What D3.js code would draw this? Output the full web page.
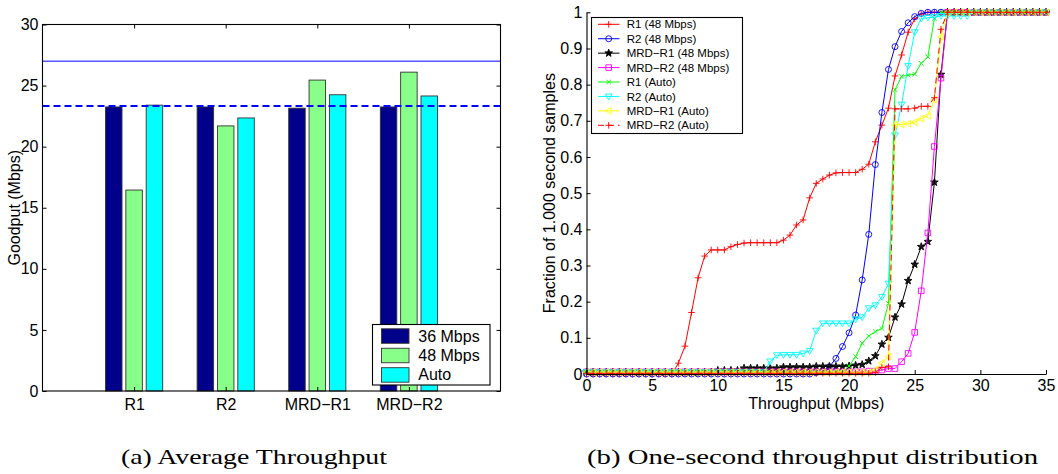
<!DOCTYPE html>
<html>
<head>
<meta charset="utf-8">
<script src="https://cdn.jsdelivr.net/npm/d3@7"></script>
<style>
  body { margin: 0; background: #fff; }
  svg text { font-family: "Liberation Sans", Arial, Helvetica, sans-serif; fill: #000; }
  .caption { font-family: "Liberation Serif", "Times New Roman", serif; }
</style>
</head>
<body>
<svg id="fig" width="1058" height="474"></svg>
<script>
// ---------- (a) average goodput per router ----------
const routers = ["R1", "R2", "MRD\u2212R1", "MRD\u2212R2"];
const rateLabels = ["36 Mbps", "48 Mbps", "Auto"];
const goodput36 = [23.25, 23.25, 23.15, 23.25];
const goodput48 = [16.45, 21.7, 25.45, 26.1];
const goodputAuto = [23.4, 22.35, 24.25, 24.15];
const capacityLine = 27;
const referenceLine = 23.33;
const goodputTicks = [0, 5, 10, 15, 20, 25, 30];

// ---------- (b) CDF of one-second throughput samples ----------
const throughputBins = [
  0, 0.5, 1, 1.5, 2, 2.5, 3, 3.5, 4, 4.5,
  5, 5.5, 6, 6.5, 7, 7.5, 8, 8.5, 9, 9.5,
  10, 10.5, 11, 11.5, 12, 12.5, 13, 13.5, 14, 14.5,
  15, 15.5, 16, 16.5, 17, 17.5, 18, 18.5, 19, 19.5,
  20, 20.5, 21, 21.5, 22, 22.5, 23, 23.5, 24, 24.5,
  25, 25.5, 26, 26.5, 27, 27.5, 28, 28.5, 29, 29.5,
  30, 30.5, 31, 31.5, 32, 32.5, 33, 33.5, 34, 34.5,
  35
];
const cdfR1_48 = [
  0, 0, 0, 0, 0, 0, 0, 0, 0, 0,
  0, 0, 0, 0, 0.03, 0.077, 0.17, 0.266, 0.326, 0.343,
  0.343, 0.343, 0.352, 0.358, 0.362, 0.363, 0.363, 0.363, 0.363, 0.363,
  0.37, 0.384, 0.412, 0.426, 0.487, 0.527, 0.539, 0.55, 0.556, 0.557,
  0.557, 0.557, 0.566, 0.58, 0.642, 0.688, 0.735, 0.824, 0.882, 0.945,
  0.982, 0.995, 1, 1, 1, 1, 1, 1, 1, 1,
  1, 1, 1, 1, 1, 1, 1, 1, 1, 1,
  1
];
const cdfR2_48 = [
  0, 0, 0, 0, 0, 0, 0, 0, 0, 0,
  0, 0, 0, 0, 0, 0, 0, 0, 0, 0,
  0, 0, 0, 0, 0, 0, 0, 0, 0, 0,
  0, 0, 0, 0, 0, 0.003, 0.008, 0.02, 0.043, 0.076,
  0.114, 0.163, 0.26, 0.386, 0.579, 0.723, 0.842, 0.905, 0.947, 0.971,
  0.988, 0.997, 1, 1, 1, 1, 1, 1, 1, 1,
  1, 1, 1, 1, 1, 1, 1, 1, 1, 1,
  1
];
const cdfMRDR1_48 = [
  0.005, 0.005, 0.005, 0.005, 0.005, 0.005, 0.005, 0.005, 0.005, 0.005,
  0.005, 0.005, 0.005, 0.005, 0.005, 0.005, 0.005, 0.005, 0.005, 0.005,
  0.01, 0.01, 0.01, 0.01, 0.016, 0.016, 0.016, 0.016, 0.016, 0.016,
  0.019, 0.019, 0.019, 0.019, 0.019, 0.021, 0.021, 0.021, 0.021, 0.021,
  0.022, 0.024, 0.026, 0.036, 0.05, 0.082, 0.101, 0.157, 0.193, 0.258,
  0.303, 0.352, 0.366, 0.53, 0.828, 1, 1, 1, 1, 1,
  1, 1, 1, 1, 1, 1, 1, 1, 1, 1,
  1
];
const cdfMRDR2_48 = [
  0.006, 0.006, 0.006, 0.006, 0.006, 0.006, 0.006, 0.006, 0.006, 0.006,
  0.006, 0.006, 0.006, 0.006, 0.006, 0.006, 0.006, 0.006, 0.006, 0.006,
  0.006, 0.006, 0.006, 0.006, 0.006, 0.006, 0.006, 0.006, 0.006, 0.006,
  0.006, 0.006, 0.006, 0.006, 0.006, 0.006, 0.006, 0.006, 0.006, 0.006,
  0.006, 0.006, 0.006, 0.008, 0.008, 0.011, 0.015, 0.015, 0.034, 0.057,
  0.115, 0.23, 0.39, 0.629, 0.818, 1, 1, 1, 1, 1,
  1, 1, 1, 1, 1, 1, 1, 1, 1, 1,
  1
];
const cdfR1_auto = [
  0.005, 0.005, 0.005, 0.005, 0.005, 0.005, 0.005, 0.005, 0.005, 0.005,
  0.005, 0.005, 0.005, 0.005, 0.005, 0.005, 0.005, 0.005, 0.005, 0.005,
  0.005, 0.005, 0.005, 0.005, 0.005, 0.005, 0.005, 0.005, 0.005, 0.005,
  0.005, 0.005, 0.005, 0.005, 0.005, 0.005, 0.005, 0.005, 0.005, 0.005,
  0.022, 0.048, 0.085, 0.105, 0.117, 0.126, 0.195, 0.786, 0.823, 0.826,
  0.829, 0.859, 0.877, 0.983, 1, 1, 1, 1, 1, 1,
  1, 1, 1, 1, 1, 1, 1, 1, 1, 1,
  1
];
const cdfR2_auto = [
  0.005, 0.005, 0.005, 0.005, 0.005, 0.005, 0.005, 0.005, 0.005, 0.005,
  0.005, 0.005, 0.005, 0.005, 0.005, 0.005, 0.005, 0.005, 0.005, 0.005,
  0.005, 0.005, 0.005, 0.005, 0.005, 0.005, 0.005, 0.005, 0.035, 0.052,
  0.053, 0.053, 0.053, 0.057, 0.064, 0.12, 0.14, 0.14, 0.14, 0.14,
  0.14, 0.151, 0.157, 0.182, 0.19, 0.213, 0.25, 0.66, 0.745, 0.852,
  0.945, 0.983, 0.985, 0.987, 0.99, 0.99, 0.99, 0.99, 0.99, 1,
  1, 1, 1, 1, 1, 1, 1, 1, 1, 1,
  1
];
const cdfMRDR1_auto = [
  0.005, 0.005, 0.005, 0.005, 0.005, 0.005, 0.005, 0.005, 0.005, 0.005,
  0.005, 0.005, 0.005, 0.005, 0.005, 0.005, 0.005, 0.005, 0.005, 0.005,
  0.005, 0.005, 0.005, 0.005, 0.005, 0.005, 0.005, 0.005, 0.005, 0.005,
  0.005, 0.005, 0.005, 0.005, 0.005, 0.005, 0.005, 0.005, 0.005, 0.005,
  0.005, 0.005, 0.005, 0.005, 0.012, 0.03, 0.048, 0.689, 0.69, 0.692,
  0.696, 0.706, 0.714, 0.758, 0.932, 1, 1, 1, 1, 1,
  1, 1, 1, 1, 1, 1, 1, 1, 1, 1,
  1
];
const cdfMRDR2_auto = [
  0.002, 0.002, 0.002, 0.002, 0.002, 0.002, 0.002, 0.002, 0.002, 0.002,
  0.002, 0.002, 0.002, 0.002, 0.002, 0.002, 0.002, 0.002, 0.002, 0.002,
  0.002, 0.002, 0.002, 0.002, 0.002, 0.002, 0.002, 0.002, 0.002, 0.002,
  0.002, 0.002, 0.002, 0.002, 0.002, 0.002, 0.002, 0.002, 0.002, 0.002,
  0.002, 0.002, 0.002, 0.002, 0.004, 0.018, 0.02, 0.733, 0.733, 0.733,
  0.735, 0.74, 0.74, 0.764, 0.953, 1, 1, 1, 1, 1,
  1, 1, 1, 1, 1, 1, 1, 1, 1, 1,
  1
];
const cdfNames = [
  "R1 (48 Mbps)", "R2 (48 Mbps)", "MRD\u2212R1 (48 Mbps)", "MRD\u2212R2 (48 Mbps)",
  "R1 (Auto)", "R2 (Auto)", "MRD\u2212R1 (Auto)", "MRD\u2212R2 (Auto)"
];
const throughputTicks = [0, 5, 10, 15, 20, 25, 30, 35];
const fractionTicks = [0, 0.1, 0.2, 0.3, 0.4, 0.5, 0.6, 0.7, 0.8, 0.9, 1];
const fractionTickLabels = ["0", "0.1", "0.2", "0.3", "0.4", "0.5", "0.6", "0.7", "0.8", "0.9", "1"];

const svg = d3.select("#fig");

// ================= panel (a) =================
const ga = svg.append("g");
const xA = d3.scaleLinear().domain([0, 5]).range([42.5, 500.5]);
const yA = d3.scaleLinear().domain([0, 30]).range([391, 24.5]);

const barSeries = [goodput36, goodput48, goodputAuto];
const barColors = ["#00008a", "#88ff88", "#00ffff"];
const barOffsets = [-0.222, 0, 0.222];
const barWidth = 0.18;

barSeries.forEach((vals, s) => {
  ga.append("g").selectAll("rect")
    .data(vals)
    .join("rect")
    .attr("x", (d, i) => xA(i + 1 + barOffsets[s] - barWidth / 2))
    .attr("width", xA(barWidth) - xA(0))
    .attr("y", d => yA(d))
    .attr("height", d => yA(0) - yA(d))
    .attr("fill", barColors[s])
    .attr("stroke", "#333")
    .attr("stroke-width", 0.9);
});

// horizontal reference lines
ga.append("line")
  .attr("x1", xA(0)).attr("x2", xA(5))
  .attr("y1", yA(capacityLine)).attr("y2", yA(capacityLine))
  .attr("stroke", "#0000ff").attr("stroke-width", 1);
ga.append("line")
  .attr("x1", xA(0)).attr("x2", xA(5))
  .attr("y1", yA(referenceLine)).attr("y2", yA(referenceLine))
  .attr("stroke", "#0000ff").attr("stroke-width", 2)
  .attr("stroke-dasharray", "7,4");

// axes (ticks point inwards on all four sides)
const axLeftA = ga.append("g").attr("transform", `translate(${xA(0)},0)`)
  .call(d3.axisLeft(yA).tickValues(goodputTicks).tickSizeInner(-4).tickSizeOuter(0).tickPadding(4));
const axRightA = ga.append("g").attr("transform", `translate(${xA(5)},0)`)
  .call(d3.axisRight(yA).tickValues(goodputTicks).tickSizeInner(-4).tickSizeOuter(0).tickFormat(""));
const axBottomA = ga.append("g").attr("transform", `translate(0,${yA(0)})`)
  .call(d3.axisBottom(xA).tickValues([1, 2, 3, 4]).tickFormat(d => routers[d - 1])
    .tickSizeInner(-4).tickSizeOuter(0).tickPadding(7.6));
const axTopA = ga.append("g").attr("transform", `translate(0,${yA(30)})`)
  .call(d3.axisTop(xA).tickValues([1, 2, 3, 4]).tickSizeInner(-4).tickSizeOuter(0).tickFormat(""));
[axLeftA, axRightA, axBottomA, axTopA].forEach(a => {
  a.select(".domain").remove();
  a.selectAll("line").attr("stroke", "#000");
  a.selectAll("text").style("font-size", "16px").attr("fill", "#000");
});
ga.append("rect")
  .attr("x", xA(0)).attr("y", yA(30))
  .attr("width", xA(5) - xA(0)).attr("height", yA(0) - yA(30))
  .attr("fill", "none").attr("stroke", "#000").attr("stroke-width", 1.1);

ga.append("text")
  .attr("transform", `translate(20,${(yA(0) + yA(30)) / 2}) rotate(-90)`)
  .attr("text-anchor", "middle")
  .style("font-size", "16px")
  .text("Goodput (Mbps)");

// legend (a)
const legA = ga.append("g");
legA.append("rect")
  .attr("x", 372.5).attr("y", 324.5).attr("width", 117.5).attr("height", 60.5)
  .attr("fill", "#fff").attr("stroke", "#000").attr("stroke-width", 1.1);
rateLabels.forEach((lbl, i) => {
  const cy = 335.8 + i * 19.45;
  legA.append("rect")
    .attr("x", 381.5).attr("y", cy - 7).attr("width", 27.5).attr("height", 14.5)
    .attr("fill", barColors[i]).attr("stroke", "#333").attr("stroke-width", 0.9);
  legA.append("text")
    .attr("x", 418.3).attr("y", cy).attr("dy", "0.36em")
    .style("font-size", "16px")
    .text(lbl);
});

// ================= panel (b) =================
const gb = svg.append("g");
const xB = d3.scaleLinear().domain([0, 35]).range([586.5, 1046]);
const yB = d3.scaleLinear().domain([0, 1]).range([374, 12.3]);

// marker glyphs
function starPath(R, r) {
  let p = "";
  for (let k = 0; k < 10; k++) {
    const a = -Math.PI / 2 + k * Math.PI / 5;
    const rad = k % 2 === 0 ? R : r;
    p += (k === 0 ? "M" : "L") + (rad * Math.cos(a)).toFixed(2) + "," + (rad * Math.sin(a)).toFixed(2);
  }
  return p + "Z";
}
const markers = {
  plus: "M-3.3,0H3.3M0,-3.3V3.3",
  circle: "M3,0A3,3 0 1,1 -3,0A3,3 0 1,1 3,0Z",
  star: starPath(4, 1.6),
  square: "M-2.8,-2.8H2.8V2.8H-2.8Z",
  cross: "M-2.3,-2.3L2.3,2.3M-2.3,2.3L2.3,-2.3",
  triDown: "M-3.4,-2.4H3.4L0,3.4Z",
  triLeft: "M-3.4,0L2.4,-3.4V3.4Z"
};

const cdfSeries = [cdfR1_48, cdfR2_48, cdfMRDR1_48, cdfMRDR2_48, cdfR1_auto, cdfR2_auto, cdfMRDR1_auto, cdfMRDR2_auto];
const cdfStyles = [
  { color: "#ff0000", marker: "plus", dash: null, fill: "none" },
  { color: "#0000ff", marker: "circle", dash: null, fill: "none" },
  { color: "#000000", marker: "star", dash: null, fill: "#000" },
  { color: "#ff00ff", marker: "square", dash: null, fill: "none" },
  { color: "#00ff00", marker: "cross", dash: null, fill: "none" },
  { color: "#00ffff", marker: "triDown", dash: null, fill: "none" },
  { color: "#ffff00", marker: "triLeft", dash: null, fill: "none" },
  { color: "#ff0000", marker: "plus", dash: "6,4", fill: "none" }
];

const line = d3.line().x(d => xB(d[0])).y(d => yB(d[1]));

cdfSeries.forEach((vals, s) => {
  const st = cdfStyles[s];
  const pts = throughputBins.map((x, i) => [x, vals[i]]);
  const g = gb.append("g");
  g.append("path")
    .attr("d", line(pts))
    .attr("fill", "none")
    .attr("stroke", st.color)
    .attr("stroke-width", 1)
    .attr("stroke-dasharray", st.dash);
  g.selectAll("path.mk")
    .data(pts)
    .join("path")
    .attr("class", "mk")
    .attr("transform", d => `translate(${xB(d[0])},${yB(d[1])})`)
    .attr("d", markers[st.marker])
    .attr("fill", st.fill === "none" ? "none" : st.color)
    .attr("fill-opacity", st.fill === "none" ? 0 : 0.85)
    .attr("stroke", st.color)
    .attr("stroke-width", 0.9);
});

// axes (b): left and bottom only, ticks inward
const axLeftB = gb.append("g").attr("transform", `translate(${xB(0)},0)`)
  .call(d3.axisLeft(yB).tickValues(fractionTicks).tickFormat((d, i) => fractionTickLabels[i])
    .tickSizeInner(-4).tickSizeOuter(0).tickPadding(4));
const axBottomB = gb.append("g").attr("transform", `translate(0,${yB(0)})`)
  .call(d3.axisBottom(xB).tickValues(throughputTicks).tickFormat(d => String(d))
    .tickSizeInner(-4).tickSizeOuter(0).tickPadding(6));
[axLeftB, axBottomB].forEach(a => {
  a.select(".domain").attr("stroke", "#000").attr("stroke-width", 1.1);
  a.selectAll("line").attr("stroke", "#000");
  a.selectAll("text").style("font-size", "16px").attr("fill", "#000");
});

gb.append("text")
  .attr("x", (xB(0) + xB(35)) / 2).attr("y", 409)
  .attr("text-anchor", "middle")
  .style("font-size", "16px")
  .text("Throughput (Mbps)");
gb.append("text")
  .attr("transform", `translate(554.5,${(yB(0) + yB(1)) / 2}) rotate(-90)`)
  .attr("text-anchor", "middle")
  .style("font-size", "16px")
  .text("Fraction of 1.000 second samples");

// legend (b)
const legB = gb.append("g");
legB.append("rect")
  .attr("x", 591.5).attr("y", 17.5).attr("width", 151).attr("height", 116)
  .attr("fill", "#fff").attr("stroke", "#000").attr("stroke-width", 1.1);
cdfNames.forEach((name, i) => {
  const st = cdfStyles[i];
  const cy = 24.3 + i * 14.43;
  legB.append("line")
    .attr("x1", 598).attr("x2", 619.5).attr("y1", cy).attr("y2", cy)
    .attr("stroke", st.color).attr("stroke-width", 1)
    .attr("stroke-dasharray", st.dash);
  legB.append("path")
    .attr("transform", `translate(608.7,${cy})`)
    .attr("d", markers[st.marker])
    .attr("fill", st.fill === "none" ? "none" : st.color)
    .attr("stroke", st.color).attr("stroke-width", 0.9);
  legB.append("text")
    .attr("x", 626.7).attr("y", cy).attr("dy", "0.36em")
    .style("font-size", "11.5px")
    .text(name);
});

// ================= captions =================
svg.append("text").attr("class", "caption")
  .attr("x", 121).attr("y", 464)
  .attr("textLength", 266).attr("lengthAdjust", "spacingAndGlyphs")
  .style("font-size", "21px")
  .text("(a) Average Throughput");
svg.append("text").attr("class", "caption")
  .attr("x", 587).attr("y", 464)
  .attr("textLength", 451).attr("lengthAdjust", "spacingAndGlyphs")
  .style("font-size", "21px")
  .text("(b) One-second throughput distribution");
</script>
</body>
</html>
